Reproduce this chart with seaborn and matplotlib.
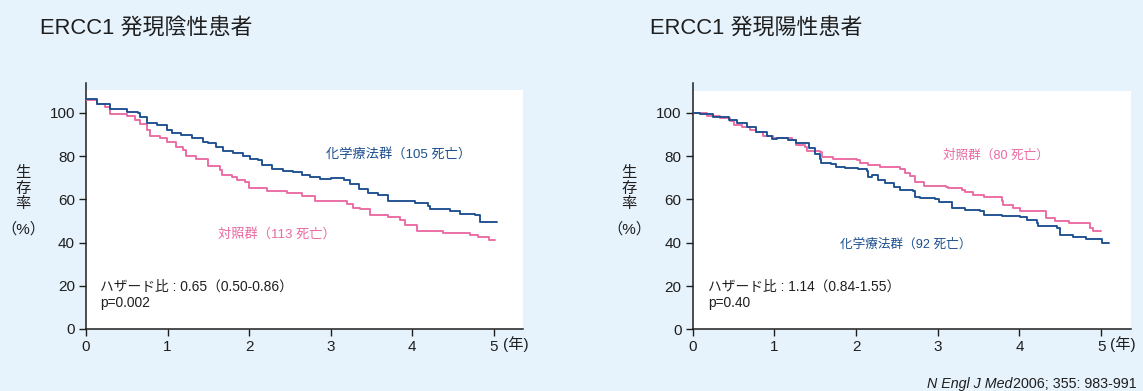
import matplotlib
matplotlib.use("Agg")
import matplotlib.pyplot as plt
import seaborn as sns
import pandas as pd

# ---- Kaplan-Meier survival curves (time in years, survival in %) ----
neg_chemo_t = [0, 0.13, 0.29, 0.5, 0.64, 0.66, 0.745, 0.87, 0.99, 1.05, 1.17, 1.30, 1.44, 1.50,
               1.60, 1.68, 1.80, 1.93, 2.01, 2.11, 2.16, 2.28, 2.42, 2.54, 2.65, 2.75, 2.87, 3.00,
               3.16, 3.24, 3.35, 3.46, 3.58, 3.71, 4.04, 4.20, 4.22, 4.47, 4.59, 4.77, 4.83, 5.04]
neg_chemo_s = [106.5, 103.9, 101.8, 100.6, 100.0, 98.1, 95.3, 94.2, 92.2, 90.8, 89.6, 88.5, 86.5, 86.0,
               84.2, 82.4, 81.6, 79.9, 78.7, 78.1, 75.8, 74.2, 73.1, 72.7, 71.1, 70.3, 69.2, 69.8,
               68.9, 67.2, 64.8, 62.8, 62.0, 59.3, 58.1, 56.8, 55.3, 54.7, 53.1, 52.8, 49.7, 49.7]

neg_ctrl_t = [0, 0.13, 0.23, 0.29, 0.50, 0.60, 0.66, 0.745, 0.79, 0.91, 0.99, 1.11, 1.19, 1.23,
              1.35, 1.50, 1.64, 1.67, 1.79, 1.85, 1.95, 2.00, 2.22, 2.46, 2.65, 2.81, 3.14, 3.20,
              3.28, 3.36, 3.48, 3.71, 3.85, 3.91, 4.06, 4.38, 4.71, 4.81, 4.94, 5.02]
neg_ctrl_s = [105.8, 103.9, 102.7, 99.6, 98.4, 96.5, 94.7, 91.9, 89.1, 88.5, 86.5, 84.2, 82.7, 79.9,
              78.7, 75.3, 73.4, 71.3, 70.1, 68.8, 67.9, 65.0, 63.9, 63.0, 61.3, 59.3, 59.2, 57.7,
              56.2, 55.4, 52.7, 51.6, 50.3, 48.0, 45.3, 44.3, 43.4, 42.6, 41.3, 41.0]

pos_chemo_t = [0, 0.09, 0.25, 0.44, 0.54, 0.66, 0.78, 0.91, 0.97, 1.03, 1.17, 1.27, 1.42, 1.50,
               1.56, 1.57, 1.69, 1.76, 1.86, 2.02, 2.13, 2.14, 2.19, 2.27, 2.35, 2.46, 2.54, 2.70,
               2.72, 2.78, 2.96, 3.02, 3.17, 3.33, 3.52, 3.56, 3.78, 4.01, 4.09, 4.21, 4.23, 4.46,
               4.50, 4.66, 4.82, 4.99, 5.01, 5.09]
pos_chemo_s = [100.0, 99.7, 98.2, 96.6, 95.1, 93.3, 91.2, 89.2, 87.9, 88.5, 87.4, 85.9, 83.9, 81.2,
               78.9, 76.9, 76.3, 75.1, 74.3, 73.9, 73.1, 70.2, 71.3, 68.9, 67.4, 65.8, 64.5, 63.8,
               61.2, 60.5, 60.0, 58.8, 56.1, 55.3, 54.5, 52.8, 52.4, 51.7, 50.5, 49.2, 47.7, 46.6,
               43.5, 42.8, 41.8, 41.5, 39.7, 39.7]

pos_ctrl_t = [0, 0.17, 0.33, 0.46, 0.50, 0.60, 0.70, 0.78, 0.86, 0.98, 1.22, 1.27, 1.37, 1.40,
              1.56, 1.58, 1.72, 2.01, 2.05, 2.15, 2.29, 2.54, 2.60, 2.66, 2.72, 2.83, 3.10, 3.13,
              3.30, 3.33, 3.43, 3.56, 3.78, 3.80, 3.92, 4.01, 4.33, 4.43, 4.60, 4.86, 4.90, 5.00]
pos_ctrl_s = [100.0, 98.5, 97.4, 96.3, 94.3, 93.3, 92.3, 91.2, 89.2, 88.5, 87.4, 85.1, 84.3, 82.3,
              82.0, 79.7, 78.6, 78.2, 76.9, 75.8, 74.8, 73.9, 72.0, 70.8, 67.9, 66.2, 65.8, 65.1,
              64.5, 63.5, 62.2, 60.9, 59.3, 57.4, 56.1, 54.8, 51.2, 50.1, 49.2, 46.9, 45.5, 45.5]

panel_titles = ["ERCC1 発現陰性患者", "ERCC1 発現陽性患者"]
chemo_labels = ["化学療法群（105 死亡）", "化学療法群（92 死亡）"]
ctrl_labels = ["対照群（113 死亡）", "対照群（80 死亡）"]
hr_labels = ["ハザード比 : 0.65（0.50-0.86）", "ハザード比 : 1.14（0.84-1.55）"]
p_labels = ["p=0.002", "p=0.40"]
x_ticks = [0, 1, 2, 3, 4, 5]
y_ticks = [0, 20, 40, 60, 80, 100]
x_unit = "(年)"

BG = "#e7f3fc"
BLUE = "#1c4f8e"
PINK = "#ea6aa2"
INK = "#1e1e1e"

sns.set_theme(style="ticks")
plt.rcParams["font.family"] = ["Liberation Sans", "Noto Sans CJK JP"]

W, H = 1143, 391
fig = plt.figure(figsize=(W / 100, H / 100), dpi=100, facecolor=BG)


def px_box(x0, x1, ybot, ytop):
    return [x0 / W, (H - ybot) / H, (x1 - x0) / W, (ybot - ytop) / H]


axes = [
    fig.add_axes(px_box(86, 523, 329, 83)),
    fig.add_axes(px_box(692.7, 1131, 329.3, 83)),
]
xlims = [5.36, 5.365]
white_tops = [110.7, 110.0]

curves = [
    (neg_chemo_t, neg_chemo_s, neg_ctrl_t, neg_ctrl_s),
    (pos_chemo_t, pos_chemo_s, pos_ctrl_t, pos_ctrl_s),
]

# label anchors (data coords): chemo, control, hazard ratio, p-value
chemo_pos = [(2.945, 80.8), (1.80, 38.9)]
ctrl_pos = [(1.62, 43.9), (3.06, 80.0)]
label_sizes = [9.5, 9.1]
hr_pos = [(0.17, 19.6), (0.19, 19.5)]
p_pos = [(0.17, 12.1), (0.19, 12.2)]
title_x = [40, 650]
unit_left = [503, 1110]

for i, ax in enumerate(axes):
    ax.set_facecolor(BG)
    ax.axhspan(0, white_tops[i], color="white", lw=0, zorder=0)
    ct, cs, kt, ks = curves[i]
    df_c = pd.DataFrame({"t": ct, "s": cs})
    df_k = pd.DataFrame({"t": kt, "s": ks})
    sns.lineplot(data=df_k, x="t", y="s", ax=ax, color=PINK, lw=1.35,
                 drawstyle="steps-post", estimator=None, sort=False, zorder=3)
    sns.lineplot(data=df_c, x="t", y="s", ax=ax, color=BLUE, lw=1.35,
                 drawstyle="steps-post", estimator=None, sort=False, zorder=4)
    ax.set_xlim(0, xlims[i])
    ax.set_ylim(0, 113.8)
    ax.set_xticks(x_ticks)
    ax.set_yticks(y_ticks)
    ax.set_xlabel("")
    ax.set_ylabel("")
    ax.grid(False)
    sns.despine(ax=ax)
    for side in ("left", "bottom"):
        ax.spines[side].set_color(INK)
        ax.spines[side].set_linewidth(1.1)
    ax.tick_params(axis="both", labelsize=11, length=5, width=1.0, color=INK,
                   labelcolor=INK, pad=3, direction="out")

    ax.text(*chemo_pos[i], chemo_labels[i], color=BLUE, fontsize=label_sizes[i],
            va="center", ha="left")
    ax.text(*ctrl_pos[i], ctrl_labels[i], color=PINK, fontsize=label_sizes[i],
            va="center", ha="left")
    ax.text(*hr_pos[i], hr_labels[i], color=INK, fontsize=9.9, va="center", ha="left")
    ax.text(*p_pos[i], p_labels[i], color=INK, fontsize=9.9, va="center", ha="left")

    # panel title
    fig.text(title_x[i] / W, 1 - 29 / H, panel_titles[i], fontsize=15.8, color=INK,
             ha="left", va="center")
    # unit of the x axis
    fig.text(unit_left[i] / W, 1 - 344 / H, x_unit, fontsize=11, color=INK,
             ha="left", va="center")

# y-axis caption, stacked vertically
ylab_x = [23, 629]
for i in range(2):
    for ch, yc in zip("生存率", (173, 188.5, 204)):
        fig.text(ylab_x[i] / W, 1 - yc / H, ch, fontsize=11, color=INK, ha="center", va="center")
    fig.text(ylab_x[i] / W, 1 - 229 / H, "（%）", fontsize=11, color=INK, ha="center", va="center")

# citation: journal name in italics followed by volume/pages
fig.canvas.draw()
renderer = fig.canvas.get_renderer()
cite = fig.text(1137 / W, 1 - 384 / H, "2006; 355: 983-991", fontsize=10.3, color=INK,
                ha="right", va="center")
bb = cite.get_window_extent(renderer)
fig.text((bb.x0 - 1) / W, 1 - 384 / H, "N Engl J Med", fontsize=10.3, color=INK,
         style="italic", ha="right", va="center")

fig.savefig("out.png", dpi=100, facecolor=BG)
